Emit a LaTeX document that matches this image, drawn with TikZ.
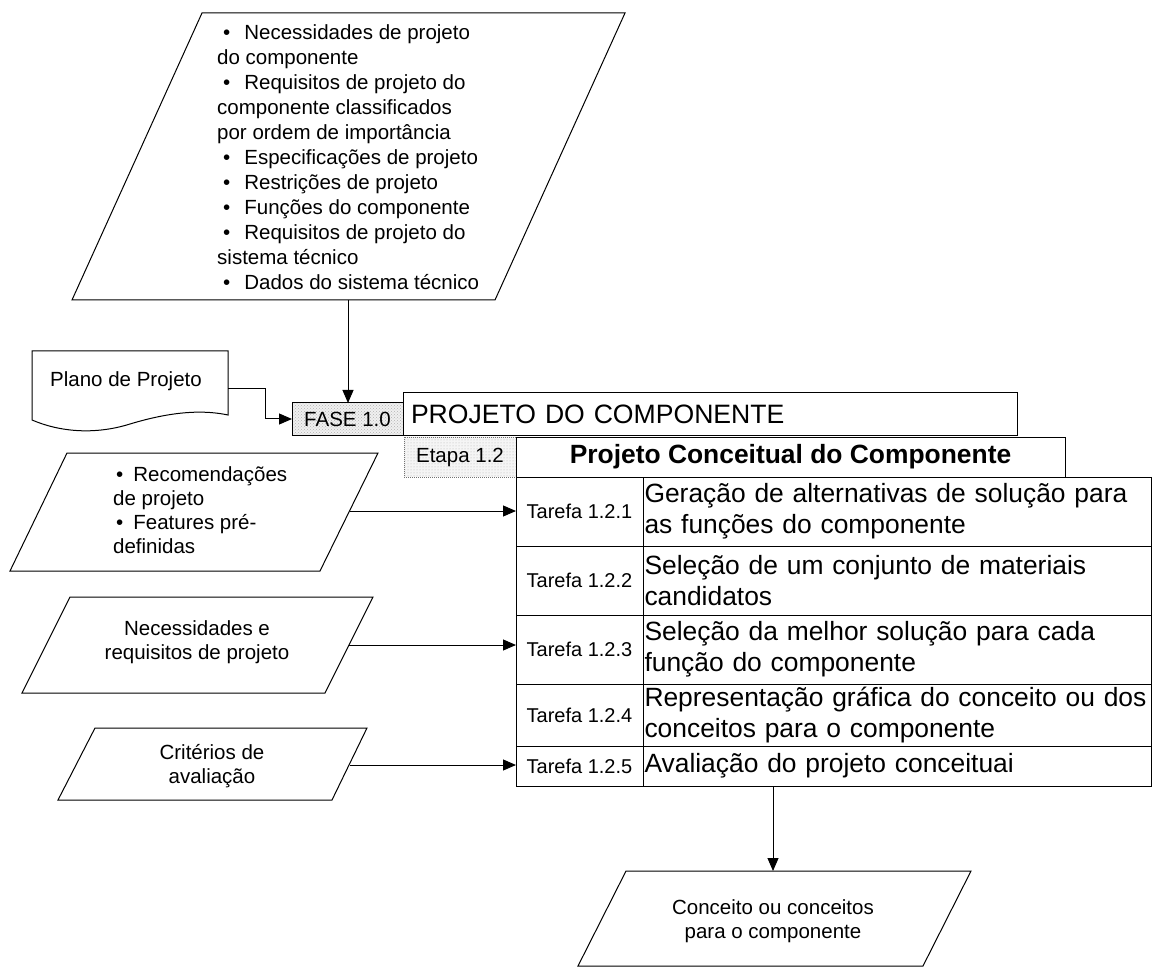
\documentclass[tikz,border=0pt]{standalone}
\usepackage{fontspec}
\setmainfont{Liberation Sans}
\usetikzlibrary{arrows.meta,patterns}
\newcommand\txtList{\fontsize{20.5}{25}\selectfont}
\newcommand\txtSide{\fontsize{20.5}{24}\selectfont}
\newcommand\txtTask{\fontsize{20}{24}\selectfont}
\newcommand\txtDesc{\fontsize{26.4}{31}\selectfont}
\newcommand\txtHead{\fontsize{26.6}{30}\selectfont}
\newcommand\itm{\hspace*{6pt}\textbullet\hspace*{14pt}}
\newcommand\itmb{\hspace*{3pt}\textbullet\hspace*{10pt}}

\begin{document}
\begin{tikzpicture}[x=1pt,y=-1pt,
  outline/.style={draw=black,line width=1pt,line join=miter},
  link/.style={draw=black,line width=1pt,-{Triangle[length=13pt,width=11pt]}},
  cellbox/.style={draw=black,line width=1pt,inner sep=0pt,outer sep=0pt,anchor=north west},
  taskcell/.style={cellbox,minimum width=127pt,font=\txtTask},
  desccell/.style={cellbox,text width=505pt,inner xsep=1.5pt,align=left,font=\txtDesc},
  plain/.style={inner sep=0pt}]

\useasboundingbox (0,0) rectangle (1152,968);

% ---- input data of the phase
\draw[outline] (202,13) -- (625,13) -- (495,300) -- (72,300) -- cycle;
\node[plain,anchor=north west,align=left,font=\txtList] (inlist) at (217,24)
  {\itm Necessidades de projeto\\
   do componente\\
   \itm Requisitos de projeto do\\
   componente classificados\\
   por ordem de importância\\
   \itm Especificações de projeto\\
   \itm Restrições de projeto\\
   \itm Funções do componente\\
   \itm Requisitos de projeto do\\
   sistema técnico\\
   \itm Dados do sistema técnico};
\coordinate (inlistout) at (348,300);

% ---- project plan (document symbol)
\draw[outline] (32,351) -- (228,351) -- (228,415)
  .. controls (195,408) and (160,415) .. (130,424)
  .. controls (95,435) and (60,432) .. (32,420) -- cycle;
\node[plain,font=\txtList] (plano) at (126,381) {Plano de Projeto};
\coordinate (planoout) at (228,389);
\coordinate (bend) at (265,389);

% ---- phase header
\node[cellbox,minimum width=111pt,minimum height=32pt,
      preaction={fill=black!6},pattern=crosshatch dots,pattern color=black!30,
      font=\txtList] (fase) at (292,403) {FASE 1.0};
\node[cellbox,minimum height=42pt,text width=598pt,inner xsep=8pt,align=left,
      font=\txtHead] (phase) at (403,393) {PROJETO DO COMPONENTE};

% ---- stage header
\node[cellbox,minimum width=112pt,minimum height=40pt,draw=black!55,densely dotted,
      preaction={fill=black!4},pattern=dots,pattern color=black!30,
      font=\txtList] (etapa) at (404,437) {Etapa 1.2};
\node[cellbox,minimum width=549pt,minimum height=40pt,font=\txtDesc\bfseries]
      (stage) at (516,437) {Projeto Conceitual do Componente};

% ---- tasks
\node[taskcell,minimum height=69pt] (t1) at (516,477) {Tarefa 1.2.1};
\node[desccell,minimum height=69pt] (d1) at (643,477)
  {Geração de alternativas de solução para\\as funções do componente};
\node[taskcell,minimum height=69pt] (t2) at (516,546) {Tarefa 1.2.2};
\node[desccell,minimum height=69pt] (d2) at (643,546)
  {Seleção de um conjunto de materiais\\candidatos};
\node[taskcell,minimum height=69pt] (t3) at (516,615) {Tarefa 1.2.3};
\node[desccell,minimum height=69pt] (d3) at (643,615)
  {Seleção da melhor solução para cada\\função do componente};
\node[taskcell,minimum height=62pt] (t4) at (516,684) {Tarefa 1.2.4};
\node[desccell,minimum height=62pt] (d4) at (643,684)
  {Representação gráfica do conceito ou dos\\conceitos para o componente};
\node[taskcell,minimum height=40pt] (t5) at (516,746) {Tarefa 1.2.5};
\node[desccell,minimum height=40pt] (d5) at (643,746)
  {Avaliação do projeto conceituai};

% ---- side inputs
\draw[outline] (67,453) -- (378,453) -- (320,571) -- (10,571) -- cycle;
\node[plain,anchor=north west,align=left,font=\txtSide] (recom) at (113,466)
  {\itmb Recomendações\\de projeto\\\itmb Features pré-\\definidas};
\coordinate (recomout) at (350,511);

\draw[outline] (70,597) -- (373,597) -- (325,693) -- (22,693) -- cycle;
\node[plain,align=center,font=\txtSide] (needs) at (197,642)
  {Necessidades e\\requisitos de projeto};
\coordinate (needsout) at (349,645);

\draw[outline] (95,728) -- (367,728) -- (332,800) -- (58,800) -- cycle;
\node[plain,align=center,font=\txtSide] (crit) at (212,766)
  {Critérios de\\avaliação};
\coordinate (critout) at (350,765);

% ---- output of the stage
\draw[outline] (626,871) -- (971,871) -- (923,966) -- (578,966) -- cycle;
\node[plain,align=center,font=\txtSide] (concept) at (773,921)
  {Conceito ou conceitos\\para o componente};
\coordinate (conceptin) at (773,871);

% ---- connectors
\draw[link] (inlistout) -- (inlistout |- fase.north);
\draw[link] (planoout) -- (bend) |- (fase.west);
\draw[link] (recomout) -- (recomout -| t1.west);
\draw[link] (needsout) -- (needsout -| t3.west);
\draw[link] (critout) -- (critout -| t5.west);
\draw[link] (conceptin |- d5.south) -- (conceptin);

\end{tikzpicture}
\end{document}
